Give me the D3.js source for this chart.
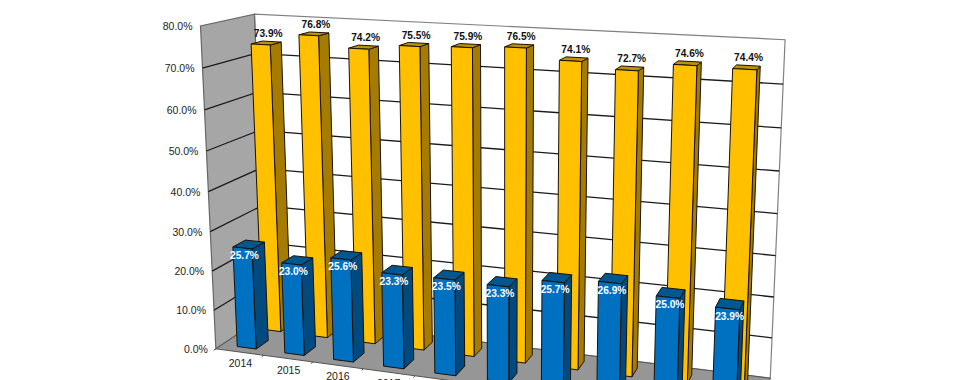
<!DOCTYPE html>
<html lang="en">
<head>
    <meta charset="UTF-8">
    <title>3D columns</title>
    <style>
        html, body { margin: 0; padding: 0; background: #fff; overflow: hidden; }
        svg { display: block; }
        text { font-family: "Liberation Sans", Arial, sans-serif; }
        .axis-label { font-size: 10.5px; fill: #222; }
        .value-label { font-size: 10.2px; font-weight: bold; text-anchor: middle; }
    </style>
</head>
<body>
    <svg width="980" height="380"></svg>

    <script src="https://d3js.org/d3.v7.min.js"></script>
    <script>
        const years = ['2014', '2015', '2016', '2017', '2018', '2019', '2020', '2021', '2022', '2023'];
        const blueValues = [25.7, 23.0, 25.6, 23.3, 23.5, 23.3, 25.7, 26.9, 25.0, 23.9];
        const yellowValues = [73.9, 76.8, 74.2, 75.5, 75.9, 76.5, 74.1, 72.7, 74.6, 74.4];
        const valueTicks = [0, 10, 20, 30, 40, 50, 60, 70, 80];

        const svg = d3.select('svg');

        // Box corners on screen: [u, v, w] -> [x, y]. u along years, v front to back, w up.
        const anchors = [
            [[0, 0, 0], [216, 346]],
            [[0, 0, 1], [200, 27]],
            [[0, 1, 0], [266, 318]],
            [[0, 1, 1], [255, 13]],
            [[1, 1, 1], [785, 40]],
            [[1, 1, 0], [770, 376]],
            [[1, 0, 0], [756, 424]]
        ];

        // Fit a perspective camera through the corners (least squares, 11 unknowns)
        function fitCamera(points) {
            const rows = [];
            points.forEach(function (p) {
                const [u, v, w] = p[0];
                const [x, y] = p[1];
                rows.push([u, v, w, 1, 0, 0, 0, 0, -x * u, -x * v, -x * w, x]);
                rows.push([0, 0, 0, 0, u, v, w, 1, -y * u, -y * v, -y * w, y]);
            });
            const n = 11;
            const m = d3.range(n).map(function (i) {
                return d3.range(n + 1).map(function (j) {
                    return d3.sum(rows, function (r) { return r[i] * r[j]; }) + (i === j ? 1e-9 : 0);
                });
            });
            for (let c = 0; c < n; c++) {
                let best = c;
                for (let r = c + 1; r < n; r++) {
                    if (Math.abs(m[r][c]) > Math.abs(m[best][c])) best = r;
                }
                [m[c], m[best]] = [m[best], m[c]];
                for (let r = 0; r < n; r++) {
                    if (r === c) continue;
                    const f = m[r][c] / m[c][c];
                    for (let k = c; k <= n; k++) m[r][k] -= f * m[c][k];
                }
            }
            return m.map(function (row, i) { return row[n] / row[i]; });
        }

        const cam = fitCamera(anchors);

        function project(u, v, w) {
            const d = cam[8] * u + cam[9] * v + cam[10] * w + 1;
            return [
                (cam[0] * u + cam[1] * v + cam[2] * w + cam[3]) / d,
                (cam[4] * u + cam[5] * v + cam[6] * w + cam[7]) / d
            ];
        }

        const uScale = d3.scaleBand().domain(years).range([-0.002, 0.998]).paddingInner(0.6).paddingOuter(0.34);
        const wScale = d3.scaleLinear().domain([0, 80]).range([0, 1]);
        const blueDepth = [0.12, 0.36];
        const yellowDepth = [0.62, 0.84];

        const polyPath = function (pts) {
            return 'M' + pts.map(function (p) { return project(p[0], p[1], p[2]).join(','); }).join('L') + 'Z';
        };

        const linePath = function (a, b) {
            return 'M' + project(a[0], a[1], a[2]).join(',') + 'L' + project(b[0], b[1], b[2]).join(',');
        };

        // Walls and floor
        const walls = svg.append('g');
        walls.append('path')
            .attr('d', polyPath([[0, 1, 0], [1, 1, 0], [1, 1, 1], [0, 1, 1]]))
            .attr('fill', '#fff').attr('stroke', '#808080').attr('stroke-width', 1.2);
        walls.append('path')
            .attr('d', polyPath([[0, 0, 0], [0, 1, 0], [0, 1, 1], [0, 0, 1]]))
            .attr('fill', '#a6a6a6').attr('stroke', '#666').attr('stroke-width', 1.2);
        walls.append('path')
            .attr('d', polyPath([[0, 0, 0], [1, 0, 0], [1, 1, 0], [0, 1, 0]]))
            .attr('fill', '#969696').attr('stroke', '#555').attr('stroke-width', 1);

        // Gridlines along the side wall and back wall
        const grid = svg.append('g')
            .attr('fill', 'none').attr('stroke', '#1a1a1a').attr('stroke-width', 1.3);
        valueTicks.slice(1, -1).forEach(function (t) {
            const w = wScale(t);
            grid.append('path').attr('d', linePath([0, 0, w], [0, 1, w]));
            grid.append('path').attr('d', linePath([0, 1, w], [1, 1, w]));
        });

        function drawBars(values, depth, front, side, top) {
            const g = svg.append('g').attr('stroke', '#1a1208').attr('stroke-width', 1).attr('stroke-linejoin', 'round');
            values.forEach(function (val, i) {
                const u0 = uScale(years[i]);
                const u1 = u0 + uScale.bandwidth();
                const w = wScale(val);
                const [v0, v1] = depth;
                g.append('path').attr('fill', side)
                    .attr('d', polyPath([[u1, v0, 0], [u1, v1, 0], [u1, v1, w], [u1, v0, w]]));
                g.append('path').attr('fill', top)
                    .attr('d', polyPath([[u0, v0, w], [u1, v0, w], [u1, v1, w], [u0, v1, w]]));
                g.append('path').attr('fill', front)
                    .attr('d', polyPath([[u0, v0, 0], [u1, v0, 0], [u1, v0, w], [u0, v0, w]]));
            });
        }

        drawBars(yellowValues, yellowDepth, '#ffc000', '#a67c00', '#bf9000');
        drawBars(blueValues, blueDepth, '#0070c0', '#004a80', '#00568f');

        // Value axis labels and category labels
        const labels = svg.append('g');
        valueTicks.forEach(function (t) {
            const p = project(0, 0, wScale(t));
            labels.append('text')
                .attr('class', 'axis-label')
                .attr('x', p[0] - 8).attr('y', p[1] + 4)
                .attr('text-anchor', 'end')
                .text(t.toFixed(1) + '%');
        });
        years.forEach(function (year, i) {
            const c = uScale(year) + uScale.bandwidth() / 2;
            const a = project(i / years.length, 0, 0);
            const b = project(i / years.length, -0.04, 0);
            svg.append('path').attr('d', 'M' + a.join(',') + 'L' + b.join(','))
                .attr('stroke', '#444').attr('fill', 'none');
            const p = project(c, 0, 0);
            labels.append('text')
                .attr('class', 'axis-label')
                .attr('x', p[0]).attr('y', p[1] + 15)
                .attr('text-anchor', 'middle')
                .text(year);
        });

        // Value labels
        yellowValues.forEach(function (val, i) {
            const mid = (yellowDepth[0] + yellowDepth[1]) / 2;
            const p = project(uScale(years[i]) + uScale.bandwidth() / 2, mid, wScale(val));
            labels.append('text').attr('class', 'value-label').attr('fill', '#111')
                .attr('x', p[0] + 2).attr('y', p[1] - 6)
                .text(val.toFixed(1) + '%');
        });
        blueValues.forEach(function (val, i) {
            const p = project(uScale(years[i]) + uScale.bandwidth() / 2, blueDepth[0], wScale(val));
            labels.append('text').attr('class', 'value-label').attr('fill', '#fff')
                .attr('x', p[0] + 2).attr('y', p[1] + 11)
                .text(val.toFixed(1) + '%');
        });
    </script>
</body>
</html>
